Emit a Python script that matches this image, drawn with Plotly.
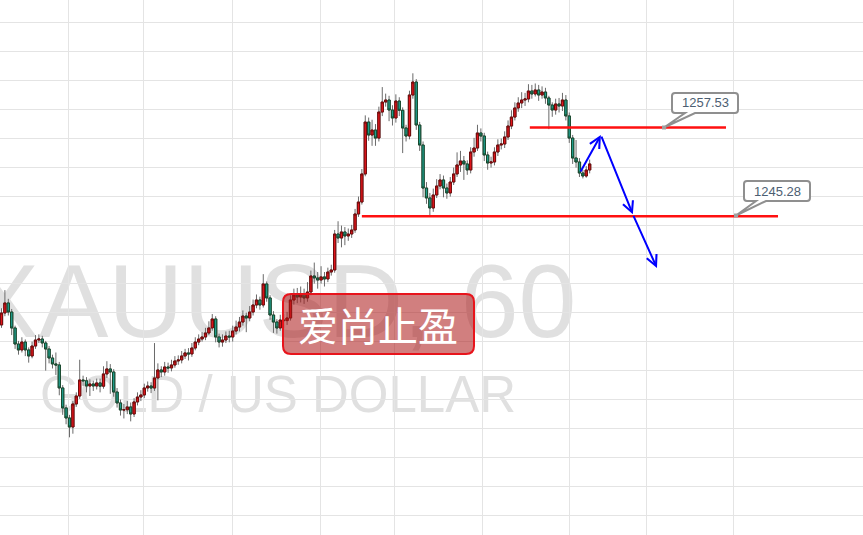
import plotly.graph_objects as go

# ---------------- data (XAUUSD, 60 min) ----------------
first_open = 1230.30
closes = [
    1231.95, 1233.33, 1232.08, 1229.88, 1227.67, 1226.85, 1227.94, 1226.85, 1226.02, 1227.39,
    1228.22, 1228.36, 1227.81, 1226.98, 1225.74, 1224.92, 1224.78, 1221.61, 1218.85, 1217.47,
    1216.22, 1219.40, 1220.50, 1222.71, 1222.60, 1221.88, 1222.16, 1221.88, 1222.30, 1221.85,
    1223.54, 1224.23, 1223.81, 1221.05, 1219.54, 1218.57, 1218.60, 1218.99, 1218.02, 1219.68,
    1220.36, 1220.64, 1221.61, 1221.88, 1221.60, 1222.99, 1224.09, 1223.81, 1224.50, 1224.37,
    1224.78, 1225.33, 1225.47, 1226.02, 1226.44, 1226.30, 1227.12, 1227.94, 1228.36, 1228.64,
    1229.19, 1229.88, 1231.12, 1228.64, 1227.94, 1228.22, 1228.77, 1228.64, 1229.46, 1230.01,
    1230.70, 1231.53, 1231.26, 1232.08, 1233.05, 1233.74, 1233.05, 1235.95, 1234.02, 1231.67,
    1230.70, 1229.88, 1230.98, 1230.90, 1231.26, 1233.74, 1234.43, 1234.15, 1234.57, 1234.02,
    1234.84, 1237.05, 1236.78, 1236.50, 1236.92, 1236.64, 1237.60, 1237.88, 1242.84, 1242.29,
    1243.12, 1242.57, 1242.84, 1243.39, 1245.60, 1247.25, 1251.12, 1258.28, 1256.49, 1257.18,
    1256.07, 1259.66, 1261.04, 1261.32, 1259.94, 1258.84, 1261.18, 1259.90, 1257.46, 1256.35,
    1262.01, 1263.80, 1257.87, 1255.11, 1249.18, 1247.81, 1246.43, 1248.22, 1249.46, 1250.29,
    1249.18, 1248.50, 1250.01, 1251.12, 1252.36, 1252.91, 1252.50, 1251.67, 1254.15, 1254.70,
    1256.77, 1256.35, 1253.74, 1252.63, 1252.77, 1254.15, 1255.11, 1255.25, 1256.22, 1257.73,
    1258.97, 1260.22, 1260.91, 1261.32, 1261.46, 1262.56, 1262.15, 1262.70, 1262.01, 1262.42,
    1261.60, 1260.63, 1259.94, 1260.77, 1260.49, 1261.32, 1259.12, 1256.07, 1253.32, 1252.77,
    1251.25, 1250.84, 1251.67, 1252.50,
]
highs = [
    1232.6, 1235.1, 1233.9, 1232.5, 1230.2, 1228.1, 1228.6, 1228.3, 1227.2, 1228.0,
    1228.9, 1229.0, 1228.8, 1228.1, 1227.4, 1226.2, 1226.5, 1225.2, 1222.0, 1219.3,
    1217.9, 1219.8, 1221.0, 1225.5, 1223.3, 1223.1, 1222.8, 1222.6, 1222.9, 1222.9,
    1224.6, 1225.3, 1224.9, 1224.2, 1221.6, 1220.0, 1219.4, 1219.8, 1219.6, 1220.2,
    1221.0, 1221.3, 1222.2, 1222.5, 1222.4, 1227.8, 1225.0, 1224.6, 1225.2, 1225.1,
    1225.5, 1226.0, 1226.1, 1226.7, 1227.0, 1227.1, 1227.8, 1228.6, 1229.0, 1229.3,
    1229.9, 1230.8, 1231.8, 1231.5, 1229.1, 1229.0, 1229.4, 1229.5, 1230.2, 1230.9,
    1231.4, 1232.3, 1232.0, 1232.9, 1233.8, 1234.5, 1234.2, 1237.3, 1236.3, 1234.4,
    1232.2, 1231.1, 1231.7, 1231.8, 1232.1, 1234.4, 1235.3, 1235.4, 1235.6, 1235.3,
    1236.2, 1237.8, 1238.9, 1237.6, 1238.4, 1237.6, 1238.2, 1238.6, 1243.4, 1244.6,
    1244.0, 1243.8, 1243.6, 1244.1, 1246.3, 1248.0, 1251.8, 1259.2, 1258.9, 1258.6,
    1258.0, 1260.4, 1263.1, 1262.2, 1261.9, 1260.6, 1262.1, 1261.7, 1260.3, 1257.9,
    1262.6, 1265.0, 1264.2, 1258.3, 1255.6, 1250.0, 1248.5, 1249.1, 1250.4, 1251.1,
    1250.9, 1249.8, 1250.7, 1252.0, 1254.1, 1254.3, 1253.6, 1253.0, 1254.8, 1256.1,
    1257.9, 1257.4, 1256.8, 1254.2, 1253.5, 1254.8, 1255.9, 1256.0, 1257.0, 1258.5,
    1259.9, 1261.0, 1261.7, 1262.4, 1262.3, 1263.5, 1263.4, 1263.6, 1263.4, 1263.2,
    1263.0, 1261.9, 1261.0, 1261.5, 1261.6, 1262.3, 1262.0, 1259.6, 1256.5, 1255.8,
    1253.3, 1251.7, 1252.2, 1253.1,
]
lows = [
    1229.9, 1231.5, 1231.6, 1228.9, 1227.0, 1226.2, 1226.5, 1226.0, 1225.1, 1225.7,
    1227.0, 1227.8, 1227.2, 1224.0, 1225.0, 1224.3, 1223.4, 1220.6, 1217.9, 1216.6,
    1214.8, 1215.3, 1219.0, 1220.1, 1221.9, 1221.0, 1220.5, 1221.2, 1221.4, 1221.0,
    1221.5, 1223.0, 1220.8, 1220.4, 1218.9, 1217.8, 1217.4, 1218.0, 1217.0, 1217.6,
    1219.2, 1219.8, 1220.2, 1221.1, 1220.9, 1221.2, 1219.9, 1223.1, 1223.3, 1223.7,
    1223.9, 1224.4, 1224.8, 1225.0, 1225.6, 1225.4, 1225.9, 1226.8, 1227.5, 1228.0,
    1228.2, 1228.9, 1229.5, 1227.9, 1227.2, 1227.3, 1227.8, 1227.9, 1228.0, 1229.0,
    1229.4, 1230.2, 1229.3, 1230.8, 1231.6, 1232.6, 1232.4, 1232.7, 1233.5, 1231.0,
    1229.2, 1229.1, 1229.5, 1229.8, 1230.3, 1230.9, 1233.1, 1233.3, 1233.4, 1233.2,
    1233.5, 1234.4, 1236.0, 1235.3, 1236.0, 1235.6, 1236.2, 1237.1, 1237.5, 1241.6,
    1241.0, 1241.3, 1241.9, 1242.3, 1243.0, 1245.2, 1246.9, 1250.8, 1255.7, 1255.0,
    1255.0, 1255.6, 1259.1, 1260.4, 1258.4, 1257.8, 1258.2, 1259.1, 1254.0, 1255.6,
    1255.9, 1261.5, 1257.2, 1254.3, 1247.9, 1247.0, 1245.3, 1245.9, 1247.8, 1249.0,
    1247.9, 1247.7, 1248.0, 1249.6, 1250.7, 1251.4, 1250.3, 1251.0, 1251.2, 1253.5,
    1254.3, 1255.6, 1252.9, 1251.7, 1252.0, 1252.3, 1253.6, 1254.5, 1254.7, 1255.8,
    1257.3, 1258.5, 1259.7, 1260.2, 1260.5, 1261.0, 1261.5, 1261.8, 1261.2, 1261.5,
    1260.8, 1257.3, 1259.0, 1259.3, 1259.6, 1259.8, 1258.5, 1255.4, 1252.5, 1252.0,
    1250.7, 1250.5, 1250.6, 1251.2,
]
opens = [first_open] + closes[:-1]
bars = list(range(len(closes)))

level_hi = 1257.53
level_lo = 1245.28
symbol_text = "XAUUSD, 60"
desc_text = "GOLD / US DOLLAR"
badge_text = "爱尚止盈"

body_top = [max(o, c) for o, c in zip(opens, closes)]
body_bot = [min(o, c) for o, c in zip(opens, closes)]

W, H = 863, 535


def px(x, y):
    return x / W, 1 - y / H


def rounded_path(x0, y0, x1, y1, r, tail=None):
    def P(x, y):
        a, b = px(x, y)
        return f"{a:.5f},{b:.5f}"

    s = f"M{P(x0 + r, y0)} L{P(x1 - r, y0)} Q{P(x1, y0)} {P(x1, y0 + r)} "
    s += f"L{P(x1, y1 - r)} Q{P(x1, y1)} {P(x1 - r, y1)} "
    if tail:
        (tr, tl, tip) = tail
        s += f"L{P(tr, y1)} L{P(*tip)} L{P(tl, y1)} "
    s += f"L{P(x0 + r, y1)} Q{P(x0, y1)} {P(x0, y1 - r)} "
    s += f"L{P(x0, y0 + r)} Q{P(x0, y0)} {P(x0 + r, y0)} Z"
    return s


fig = go.Figure()

# wicks (gray)
fig.add_trace(go.Candlestick(
    x=bars, open=opens, high=highs, low=lows, close=closes,
    increasing=dict(line=dict(color="#6a6a6a", width=1), fillcolor="#6a6a6a"),
    decreasing=dict(line=dict(color="#6a6a6a", width=1), fillcolor="#6a6a6a"),
    whiskerwidth=0, hoverinfo="skip", showlegend=False,
))
# bodies (red up / teal down with dark borders)
fig.add_trace(go.Candlestick(
    x=bars, open=opens, high=body_top, low=body_bot, close=closes,
    increasing=dict(line=dict(color="#6e0a0a", width=1), fillcolor="#e3151b"),
    decreasing=dict(line=dict(color="#17472a", width=1), fillcolor="#1e9e8e"),
    whiskerwidth=0, hoverinfo="skip", showlegend=False,
))

shapes = []
# watermark (below everything)
shapes.append(dict(type="rect", xref="paper", yref="paper",
                   x0=px(-60, 0)[0], x1=px(606, 0)[0], y0=px(0, 341)[1], y1=px(0, 241)[1],
                   line=dict(width=0), fillcolor="rgba(0,0,0,0)", layer="below",
                   label=dict(text=symbol_text, textposition="middle center",
                              font=dict(size=104, color="#e0e0e0", family="Liberation Sans"))))
shapes.append(dict(type="rect", xref="paper", yref="paper",
                   x0=px(20, 0)[0], x1=px(536, 0)[0], y0=px(0, 416)[1], y1=px(0, 362)[1],
                   line=dict(width=0), fillcolor="rgba(0,0,0,0)", layer="below",
                   label=dict(text=desc_text, textposition="middle center",
                              font=dict(size=51, color="#e0e0e0", family="Liberation Sans"))))

# horizontal levels
shapes.append(dict(type="line", xref="x", yref="y", x0=155.4, x1=213.1, y0=level_hi, y1=level_hi,
                   line=dict(color="#ff1010", width=2.5)))
shapes.append(dict(type="line", xref="x", yref="y", x0=106.0, x1=228.4, y0=level_lo, y1=level_lo,
                   line=dict(color="#ff1010", width=2.5)))

# callouts
shapes.append(dict(type="path", xref="paper", yref="paper",
                   path=rounded_path(672, 93, 738, 113, 3, tail=(695, 685, (664, 127.5))),
                   line=dict(color="#8f8f8f", width=2), fillcolor="white"))
shapes.append(dict(type="path", xref="paper", yref="paper",
                   path=rounded_path(744, 181, 810, 201, 3, tail=(766, 756, (736, 215.5))),
                   line=dict(color="#8f8f8f", width=2), fillcolor="white"))
for (ax_, ay_) in [(664, 127.5), (736, 215.5)]:
    a0 = px(ax_ - 2, ay_ - 2)
    a1 = px(ax_ + 2, ay_ + 2)
    shapes.append(dict(type="rect", xref="paper", yref="paper", x0=a0[0], x1=a1[0], y0=a1[1], y1=a0[1],
                       line=dict(width=0), fillcolor="#a0a0a0"))

# badge
shapes.append(dict(type="path", xref="paper", yref="paper",
                   path=rounded_path(283, 294, 474, 354, 8),
                   line=dict(color="#e8141c", width=2), fillcolor="rgba(172,22,22,0.55)"))

annotations = []
annotations.append(dict(xref="paper", yref="paper", x=px(705, 0)[0], y=px(0, 103)[1],
                        text=f"{level_hi:.2f}", showarrow=False, xanchor="center", yanchor="middle",
                        font=dict(size=13, color="#4c5e72", family="Liberation Sans")))
annotations.append(dict(xref="paper", yref="paper", x=px(777, 0)[0], y=px(0, 191)[1],
                        text=f"{level_lo:.2f}", showarrow=False, xanchor="center", yanchor="middle",
                        font=dict(size=13, color="#4c5e72", family="Liberation Sans")))
annotations.append(dict(xref="paper", yref="paper", x=px(378, 0)[0], y=px(0, 324)[1],
                        text=badge_text, showarrow=False, xanchor="center", yanchor="middle",
                        font=dict(size=40, color="white", family="Noto Sans CJK SC")))

# blue projection arrows
path_pts = [(170.1, 1251.25), (176.3, 1256.49), (185.7, 1245.55), (192.8, 1238.15)]
for (tx, ty), (hx, hy) in zip(path_pts[:-1], path_pts[1:]):
    annotations.append(dict(xref="x", yref="y", axref="x", ayref="y",
                            x=hx, y=hy, ax=tx, ay=ty, text="", showarrow=True,
                            arrowhead=5, arrowsize=1.05, arrowwidth=2, arrowcolor="#0000ff",
                            standoff=0, startstandoff=0))

grid_x = [19.85, 41.9, 67.8, 93.7, 115.7, 141.6, 167.2, 189.6, 215.4]

fig.update_layout(
    width=W, height=H, margin=dict(l=0, r=0, t=0, b=0),
    paper_bgcolor="white", plot_bgcolor="white",
    boxgap=0.05, showlegend=False,
    shapes=shapes, annotations=annotations,
    xaxis=dict(range=[-0.44, 253.4], tickvals=grid_x, showticklabels=False, ticks="",
               showgrid=True, gridcolor="#e4e4e4", gridwidth=1, zeroline=False,
               showline=False, rangeslider=dict(visible=False), fixedrange=True),
    yaxis=dict(range=[1201.33, 1275.11], tick0=1200, dtick=4, showticklabels=False, ticks="",
               showgrid=True, gridcolor="#e4e4e4", gridwidth=1, zeroline=False,
               showline=False, fixedrange=True),
)

fig.write_html("out.html", config={"displayModeBar": False},
               post_script="document.body.style.margin='0px';document.body.style.overflow='hidden';")
